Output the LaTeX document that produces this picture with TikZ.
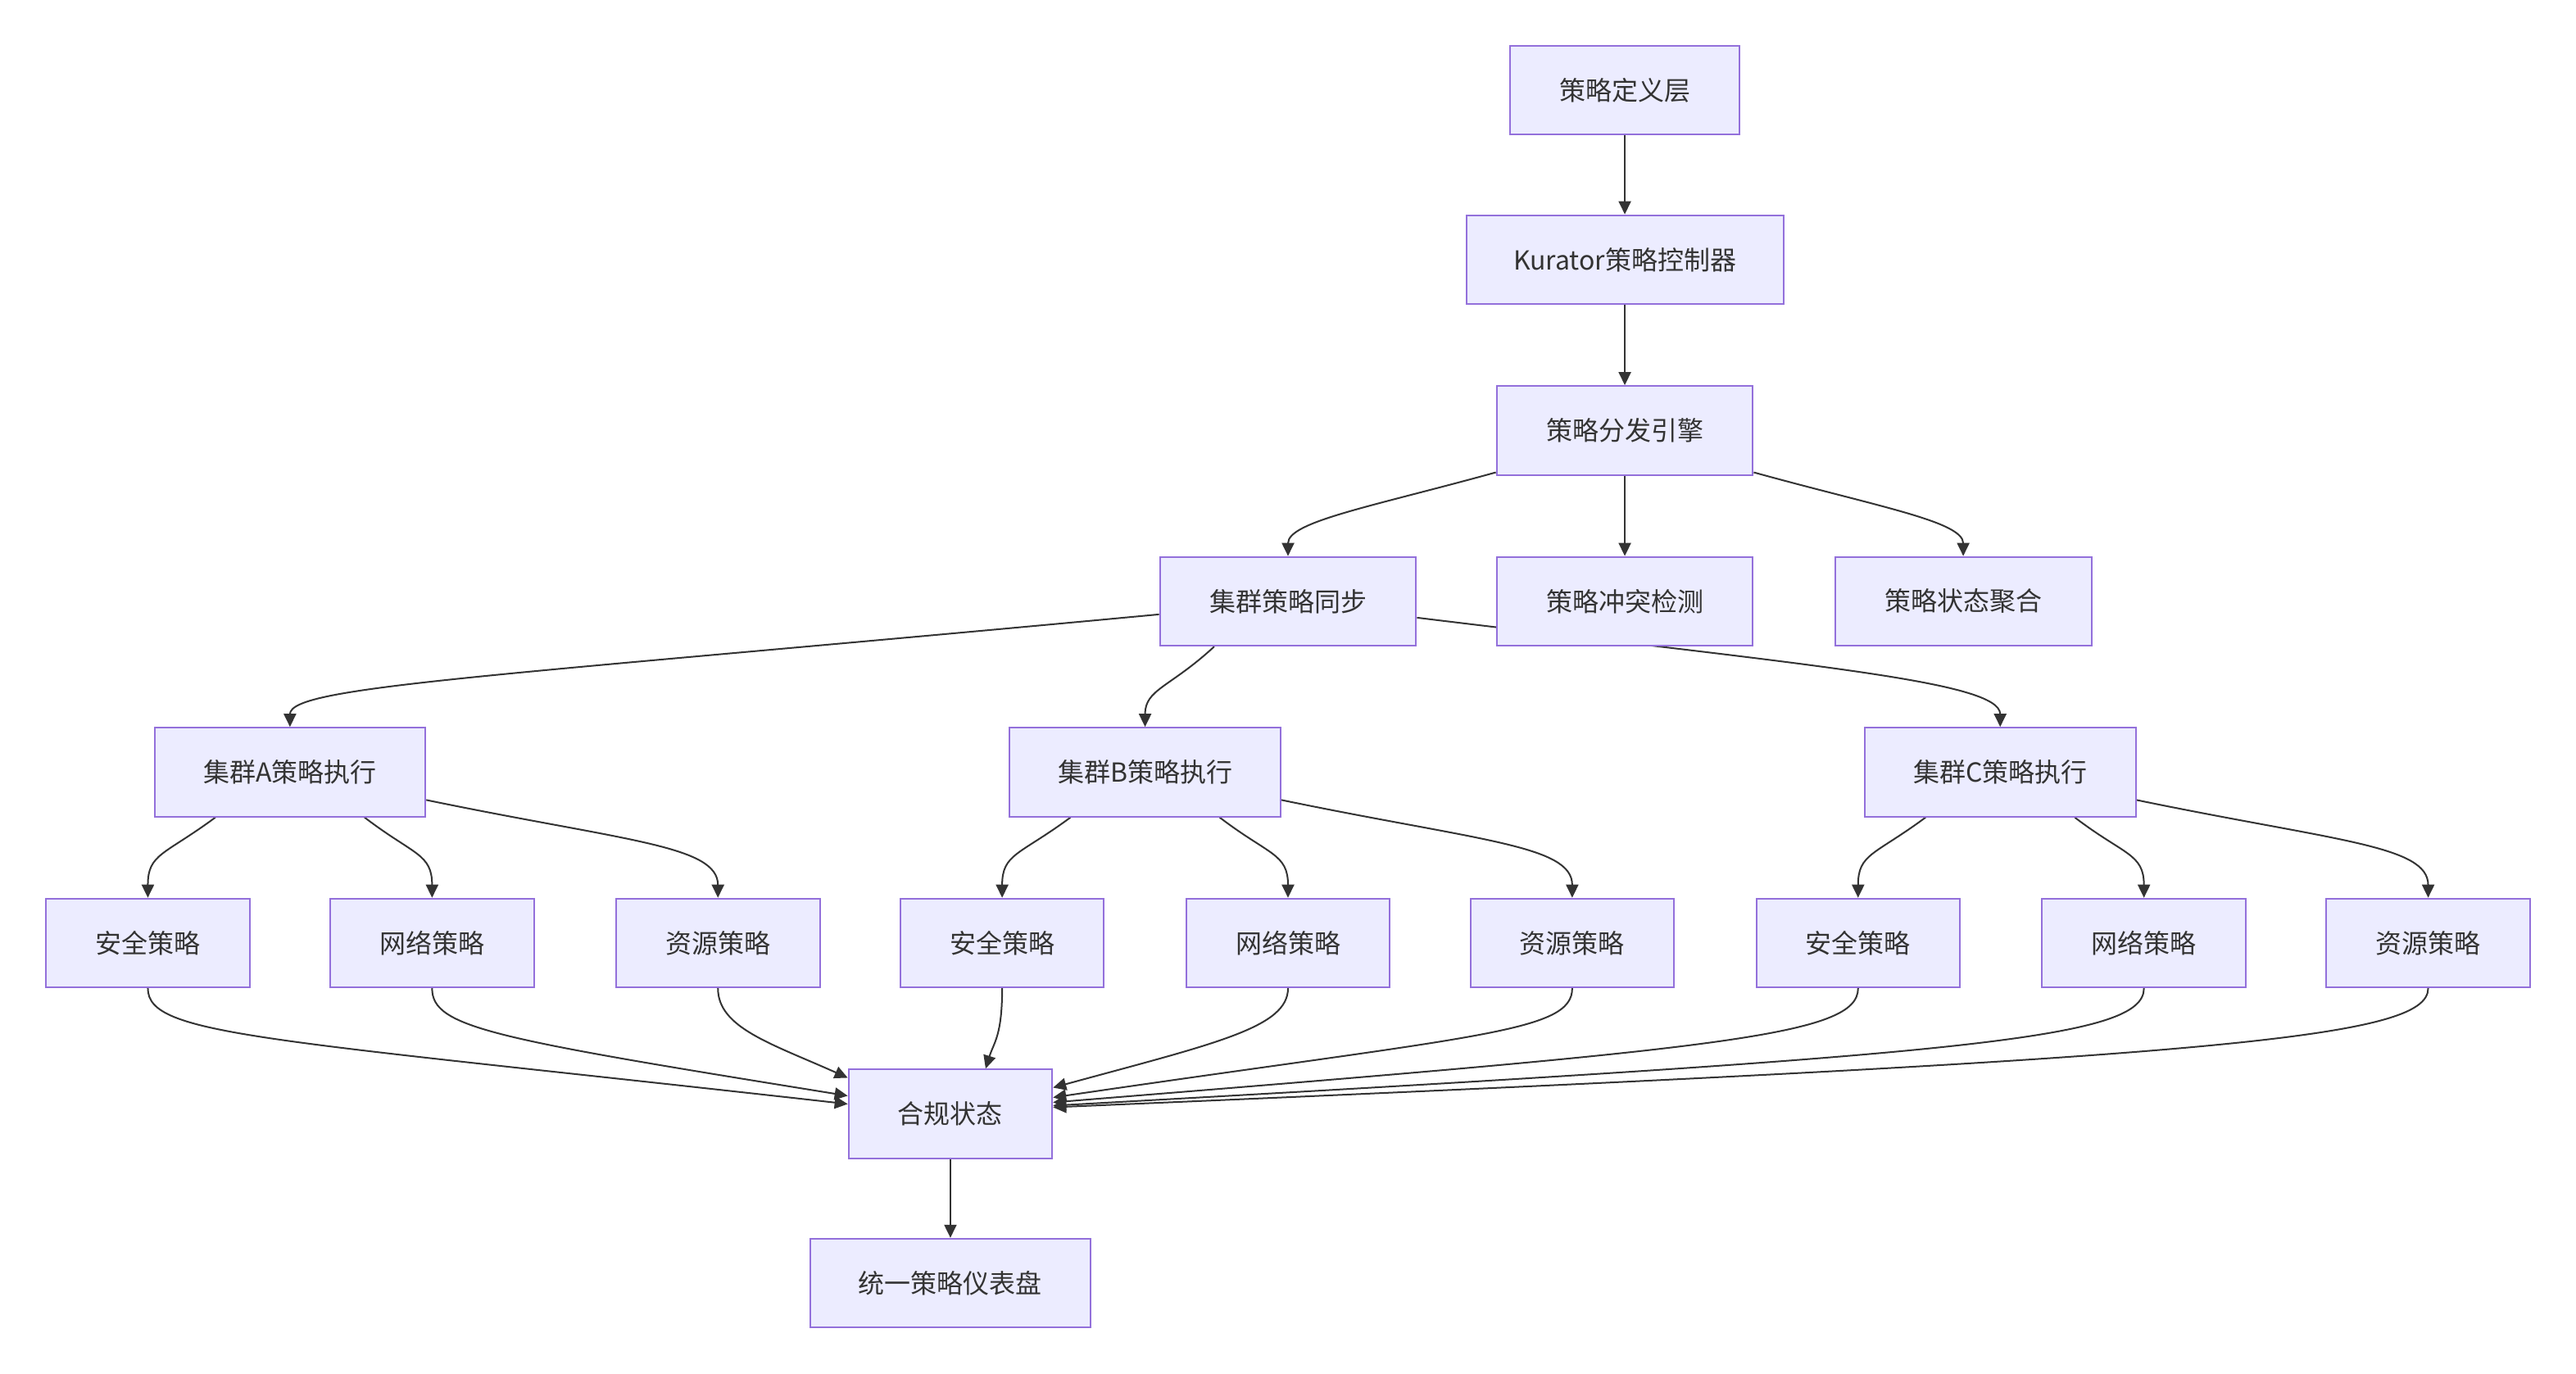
\documentclass[tikz,border=0pt]{standalone}
\usepackage{fontspec}
\setmainfont{Noto Sans CJK SC}
\usetikzlibrary{arrows.meta}
\definecolor{nodefill}{HTML}{ECECFF}
\definecolor{nodeborder}{HTML}{9370DB}
\definecolor{edgecol}{HTML}{333333}
\definecolor{textcol}{HTML}{333333}
\pgfdeclarelayer{edgelayer}
\pgfsetlayers{edgelayer,main}
\tikzset{
  box/.style={draw=nodeborder, fill=nodefill, line width=1pt, minimum height=54.2pt,
    inner sep=0pt, text=textcol, font=\fontsize{16pt}{19pt}\selectfont},
  w124/.style={box, minimum width=124.3pt},
  w156/.style={box, minimum width=156.4pt},
  w165/.style={box, minimum width=165.4pt},
  flow/.style={draw=edgecol, line width=1pt, -{Triangle[length=8pt,width=7.5pt]}}
}
\begin{document}
\begin{tikzpicture}[x=1.00255pt,y=-1.00255pt]
\useasboundingbox (0,0) rectangle (1568,835.87);
% nodes
\node[box, minimum width=140.4pt] (d1) at (989,55) {策略定义层};
\node[box, minimum width=193.5pt] (d2) at (989,158) {Kurator策略控制器};
\node[w156] (d3) at (989,262) {策略分发引擎};
\node[w156] (sync) at (784,366) {集群策略同步};
\node[w156] (conf) at (989,366) {策略冲突检测};
\node[w156] (agg) at (1195,366) {策略状态聚合};
\node[w165] (A) at (176.5,470) {集群A策略执行};
\node[w165] (B) at (697,470) {集群B策略执行};
\node[w165] (C) at (1217.5,470) {集群C策略执行};
\node[w124] (sA) at (90,574) {安全策略};
\node[w124] (nA) at (263,574) {网络策略};
\node[w124] (rA) at (437,574) {资源策略};
\node[w124] (sB) at (610,574) {安全策略};
\node[w124] (nB) at (784,574) {网络策略};
\node[w124] (rB) at (957,574) {资源策略};
\node[w124] (sC) at (1131,574) {安全策略};
\node[w124] (nC) at (1305,574) {网络策略};
\node[w124] (rC) at (1478,574) {资源策略};
\node[w124] (comp) at (578.5,678) {合规状态};
\node[box, minimum width=171.4pt] (dash) at (578.5,781) {统一策略仪表盘};
% edges
\begin{pgfonlayer}{edgelayer}
\draw[flow] (d1.south) -- (d2.north);
\draw[flow] (d2.south) -- (d3.north);
\draw[flow] ([yshift=2pt]d3.south west) .. controls +(-76,21) and +(0,-21) .. (sync.north);
\draw[flow] (d3.south) -- (conf.north);
\draw[flow] ([yshift=2pt]d3.south east) .. controls +(76,21) and +(0,-21) .. (agg.north);
\draw[flow] ([yshift=-8pt]sync.west) .. controls +(-406,38) and +(0,-25) .. (A.north);
\draw[flow] ([xshift=-45pt]sync.south) .. controls +(-27,25) and +(0,-23) .. (B.north);
\draw[flow] ([yshift=-10pt]sync.east) .. controls +(238,29) and +(0,-28) .. (C.north);
\foreach \c/\s/\n/\r in {A/sA/nA/rA, B/sB/nB/rB, C/sC/nC/rC}{
  \draw[flow] ([xshift=-45.5pt]\c.south) .. controls +(-31,23) and +(0,-27) .. (\s.north);
  \draw[flow] ([xshift=45.5pt]\c.south) .. controls +(30,23) and +(0,-27) .. (\n.north);
  \draw[flow] ([yshift=-17pt]\c.east) .. controls +(121,25) and +(0,-32) .. (\r.north);
}
\draw[flow] (sA.south) .. controls +(0,29) and +(-357,-40) .. ([yshift=6pt]comp.west);
\draw[flow] (nA.south) .. controls +(0,24) and +(-217,-35) .. ([yshift=11pt]comp.west);
\draw[flow] (rA.south) .. controls +(0,24) and +(-47,-21) .. ([yshift=22pt]comp.west);
\draw[flow] (sB.south) .. controls +(0,29) and +(5,-16) .. ([xshift=21.5pt]comp.north);
\draw[flow] (nB.south) .. controls +(0,24) and +(99,-27) .. ([yshift=16pt]comp.east);
\draw[flow] (rB.south) .. controls +(0,27) and +(259,-38) .. ([yshift=10pt]comp.east);
\draw[flow] (sC.south) .. controls +(0,29) and +(409,-33) .. ([yshift=7pt]comp.east);
\draw[flow] (nC.south) .. controls +(0,31) and +(559,-31) .. ([yshift=5pt]comp.east);
\draw[flow] (rC.south) .. controls +(0,31) and +(709,-30) .. ([yshift=4pt]comp.east);
\draw[flow] (comp.south) -- (dash.north);
\end{pgfonlayer}
\end{tikzpicture}
\end{document}
